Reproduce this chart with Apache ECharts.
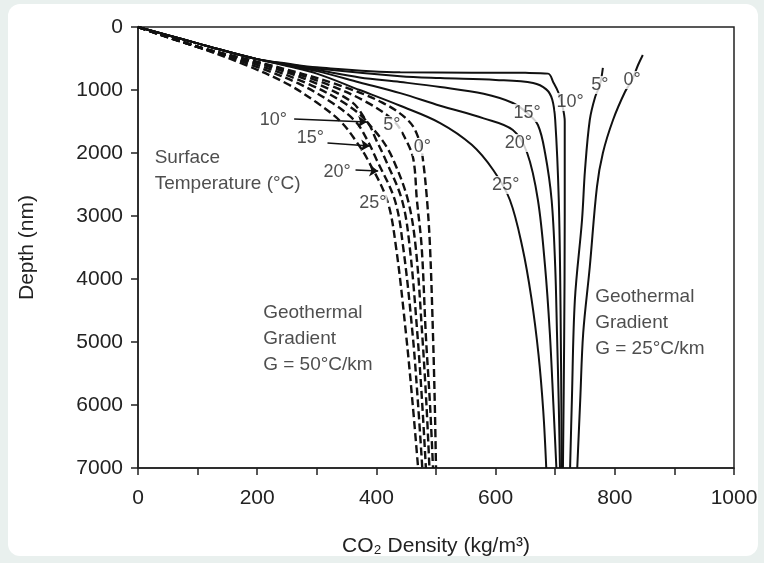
<!DOCTYPE html>
<html>
<head>
<meta charset="utf-8">
<script src="https://cdn.jsdelivr.net/npm/echarts@6/dist/echarts.min.js"></script>
<style>
html,body{margin:0;padding:0;background:#e9f0ee;}
#card{position:absolute;left:8px;top:4px;width:750px;height:552px;background:#fff;border-radius:12px;}
#main{position:absolute;left:0;top:0;width:764px;height:563px;}
</style>
</head>
<body>
<div id="card"></div>
<div id="main"></div>
<script>
// ticks
var xTicks = [0, 200, 400, 600, 800, 1000]
var yTicks = [0, 1000, 2000, 3000, 4000, 5000, 6000, 7000]

// G = 25 C/km  (solid)  [density, depth]
var solid0  = [[847,444],[839,603],[829,841],[817,1032],[797,1476],[780,2000],[770,2540],[758,3810],[747,4857],[742,5920],[737,7000]]
var solid5  = [[780,650],[775,920],[767,1111],[758,1476],[750,2270],[745,3063],[733,4333],[728,5920],[725,7000]]
var solid10 = [[0,0],[50,130],[100,260],[150,390],[200,510],[250,580],[300,640],[440,720],[560,725],[650,728],[688,740],[697,880],[705,1032],[712,1250],[716,1500],[716,3000],[715,5000],[713,7000]]
var solidX  = [[0,0],[50,130],[100,260],[150,390],[200,510],[250,590],[300,660],[440,780],[507,810],[600,840],[663,889],[685,990],[695,1150],[700,1476],[706,2746],[709,4500],[711,7000]]
var solid15 = [[0,0],[50,130],[100,260],[150,390],[200,510],[250,600],[300,680],[372,800],[440,873],[507,952],[580,1060],[629,1206],[653,1365],[671,1556],[683,2000],[694,2746],[700,3800],[703,4857],[706,6000],[708,7000]]
var solid20 = [[0,0],[50,130],[100,260],[150,390],[200,510],[250,610],[300,700],[372,880],[440,1050],[507,1250],[580,1450],[629,1635],[653,2000],[671,2746],[683,3800],[691,4857],[697,6000],[702,7000]]
var solid25 = [[0,0],[50,130],[100,260],[150,390],[200,510],[250,620],[300,740],[372,1000],[440,1250],[507,1524],[560,1870],[596,2270],[624,2746],[645,3500],[660,4300],[672,5200],[680,6100],[685,7000]]

// G = 50 C/km  (dashed)
var dash0  = [[0,0],[95,300],[220,600],[330,900],[410,1200],[455,1500],[472,1800],[478,2100],[485,2750],[490,3500],[495,4900],[498,6000],[500,7000]]
var dash5  = [[0,0],[95,300],[215,600],[315,900],[385,1200],[430,1500],[450,1800],[462,2100],[468,2750],[476,3500],[483,4900],[490,6000],[495,7000]]
var dash10 = [[0,0],[95,300],[210,600],[300,900],[360,1200],[384,1500],[410,1800],[428,2100],[453,2750],[466,3500],[477,4900],[484,6000],[489,7000]]
var dash15 = [[0,0],[95,300],[200,600],[285,900],[345,1200],[384,1500],[400,1800],[415,2100],[443,2750],[456,3500],[469,4900],[477,6000],[483,7000]]
var dash20 = [[0,0],[95,300],[190,600],[270,900],[325,1200],[365,1500],[385,1800],[400,2100],[431,2750],[445,3500],[461,4900],[470,6000],[477,7000]]
var dash25 = [[0,0],[95,300],[180,600],[250,900],[300,1200],[340,1500],[365,1800],[385,2100],[418,2750],[433,3500],[450,4900],[461,6000],[470,7000]]

// curve labels [density, depth, text]
var solidLabels = [[829,841,'0°'],[775,920,'5°'],[725,1190,'10°'],[653,1365,'15°'],[638,1841,'20°'],[617,2508,'25°']]
var dashLabels  = [[477,1905,'0°'],[426,1556,'5°'],[227,1476,'10°'],[289,1762,'15°'],[334,2302,'20°'],[394,2794,'25°']]
var arrows = [[[262,1460],[384,1508]],[[318,1841],[389,1889]],[[365,2270],[403,2286]]]

// text notes
var notes = [[28,2280,'Surface\nTemperature (°C)'],[210,4950,'Geothermal\nGradient\nG = 50°C/km'],[767,4700,'Geothermal\nGradient\nG = 25°C/km']]

var myChart = echarts.init(document.getElementById('main'))
var font = 'Liberation Sans, Arial, sans-serif'

function curve(name, data, dashed){
	return {
		name: name,
		type: 'line',
		data: data,
		smooth: 0.35,
		symbol: 'none',
		silent: true,
		z: 2,
		lineStyle: {color: '#111', width: dashed ? 2.4 : 2, type: dashed ? [8,4] : 'solid'}
	}
}

function labelSeries(arr, z){
	return {
		type: 'scatter',
		symbolSize: 0,
		z: z,
		silent: true,
		data: arr.map(function(d){ return {value: [d[0], d[1]], name: d[2]} }),
		label: {
			show: true, position: 'inside', formatter: '{b}',
			color: '#222', fontSize: 18, fontFamily: font,
			backgroundColor: '#fff', padding: [0, 1]
		}
	}
}

var series = [
	curve('s0', solid0), curve('s5', solid5), curve('s10', solid10), curve('sX', solidX),
	curve('s15', solid15), curve('s20', solid20), curve('s25', solid25),
	curve('d0', dash0, true), curve('d5', dash5, true), curve('d10', dash10, true),
	curve('d15', dash15, true), curve('d20', dash20, true), curve('d25', dash25, true),
	labelSeries(solidLabels, 5), labelSeries(dashLabels, 5),
	{
		type: 'lines', coordinateSystem: 'cartesian2d', z: 6, silent: true,
		symbol: ['none', 'arrow'], symbolSize: 9,
		lineStyle: {color: '#111', width: 1.5, opacity: 1},
		data: arrows.map(function(a){ return {coords: a} })
	},
	{
		type: 'scatter', symbolSize: 0, z: 4, silent: true,
		data: notes.map(function(d){ return {value: [d[0], d[1]], name: d[2]} }),
		label: {
			show: true, position: 'right', distance: 0, formatter: '{b}', align: 'left',
			color: '#222', fontSize: 19, lineHeight: 26, fontFamily: font
		}
	}
]

option = {
	backgroundColor: 'transparent',
	animation: false,
	grid: {left: 138, right: 30, top: 27, bottom: 95, show: true, borderColor: '#222', borderWidth: 1.5, backgroundColor: 'transparent'},
	xAxis: {
		type: 'value', min: 0, max: 1000, interval: 200,
		name: 'CO₂ Density (kg/m³)', nameLocation: 'middle', nameGap: 68,
		nameTextStyle: {fontSize: 21, color: '#222', fontFamily: font},
		axisLine: {onZero: false, lineStyle: {color: '#222', width: 1.5}},
		axisTick: {show: true, length: 7, lineStyle: {color: '#222', width: 1.5}},
		minorTick: {show: true, splitNumber: 2, length: 7, lineStyle: {color: '#222', width: 1.5}},
		axisLabel: {fontSize: 21, color: '#222', margin: 20, fontFamily: font, formatter: function(v){ return String(v) }},
		splitLine: {show: false}
	},
	yAxis: {
		type: 'value', min: 0, max: 7000, interval: 1000, inverse: true,
		name: 'Depth (nm)', nameLocation: 'middle', nameGap: 100, nameRotate: 90,
		nameTextStyle: {fontSize: 21, color: '#222', fontFamily: font},
		axisLine: {onZero: false, lineStyle: {color: '#222', width: 1.5}},
		axisTick: {show: true, length: 7, lineStyle: {color: '#222', width: 1.5}},
		axisLabel: {fontSize: 21, color: '#222', margin: 15, fontFamily: font, formatter: function(v){ return String(v) }},
		splitLine: {show: false}
	},
	series: series
}
myChart.setOption(option)
</script>
</body>
</html>
